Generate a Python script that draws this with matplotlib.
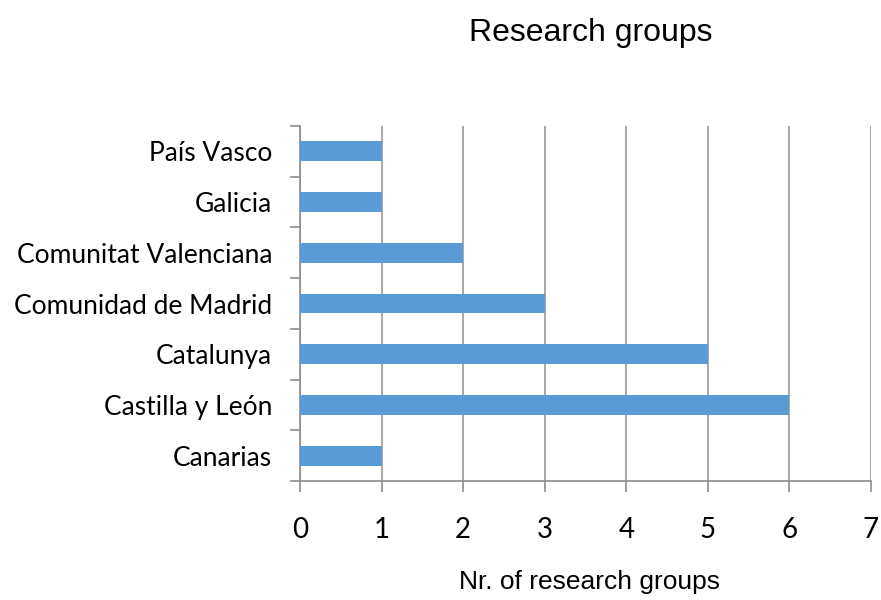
import numpy as np
import matplotlib.pyplot as plt
from matplotlib.ticker import FixedLocator

# Data (bottom to top)
regions = ['Canarias', 'Castilla y León', 'Catalunya', 'Comunidad de Madrid',
           'Comunitat Valenciana', 'Galicia', 'País Vasco']
groups = [1, 6, 5, 3, 2, 1, 1]
x_ticks = [0, 1, 2, 3, 4, 5, 6, 7]

fig = plt.figure(figsize=(8.81, 6), dpi=100)
ax = fig.add_axes([0.3405, 0.1983, 0.6482, 0.5917])

y = np.arange(len(regions))
ax.barh(y, groups, height=0.39, color='#5B9BD5', zorder=3)

ax.set_xlim(0, 7)
ax.set_ylim(-0.5, len(regions) - 0.5)

# Vertical gridlines
ax.set_xticks(x_ticks)
ax.grid(axis='x', color='#999999', linewidth=1.2, zorder=0)
ax.set_axisbelow(True)

# Spines
for s in ['top', 'right']:
    ax.spines[s].set_visible(False)
for s in ['left', 'bottom']:
    ax.spines[s].set_color('#8c8c8c')
    ax.spines[s].set_linewidth(1.2)

# y ticks: labels centred, tick marks between categories
ax.set_yticks(y)
ax.set_yticklabels(regions, family='Lato', fontsize=19)
ax.tick_params(axis='y', which='major', length=0, pad=20)
ax.yaxis.set_minor_locator(FixedLocator(np.arange(-0.5, len(regions), 1.0)))
ax.tick_params(axis='y', which='minor', length=7, color='#8c8c8c', width=1.2)

ax.set_xticklabels([str(t) for t in x_ticks], family='Lato', fontsize=20)
ax.tick_params(axis='x', length=8, color='#8c8c8c', width=1.2, pad=18)

fig.text(0.671, 0.945, 'Research groups', ha='center', va='center',
         family='Liberation Sans', fontsize=23)
fig.text(0.669, 0.03, 'Nr. of research groups', ha='center', va='center',
         family='Liberation Sans', fontsize=19)

fig.savefig('out.png', dpi=100)
